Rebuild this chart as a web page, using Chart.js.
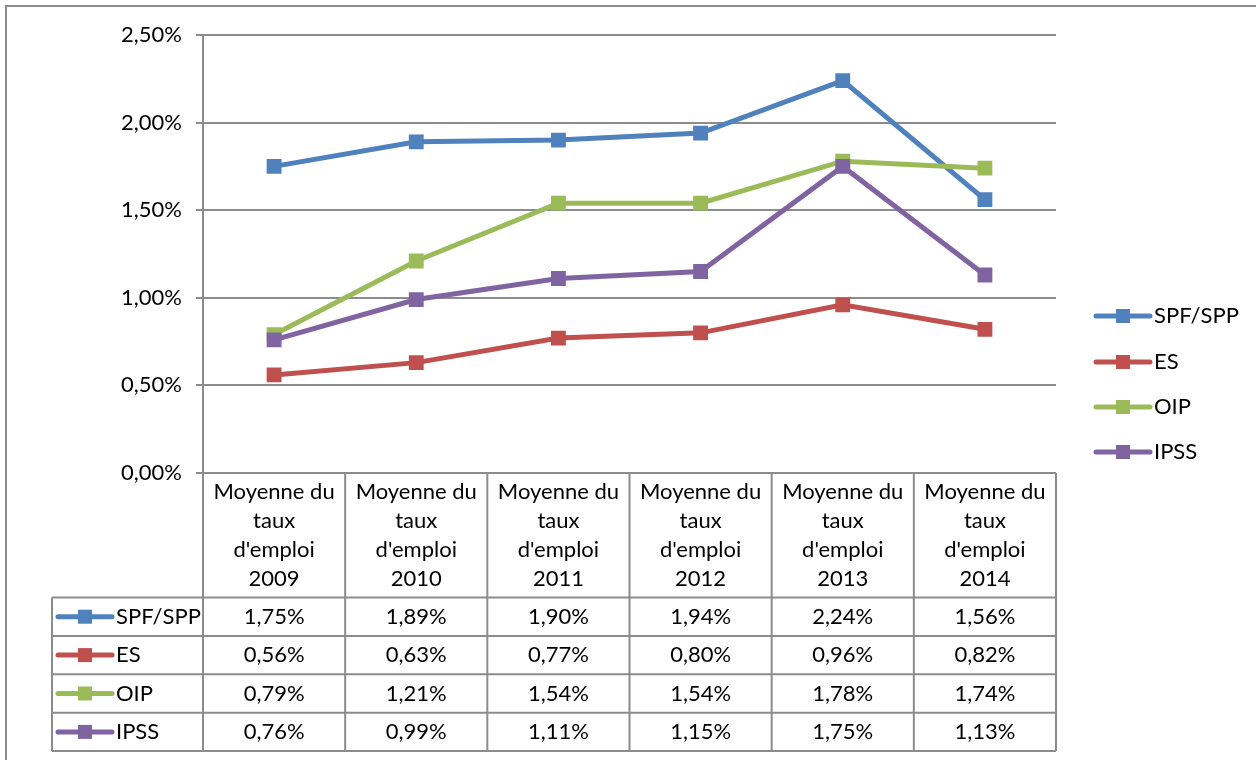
<!DOCTYPE html>
<html><head><meta charset="utf-8">
<script src="https://cdn.jsdelivr.net/npm/chart.js@4"></script>
<style>html,body{margin:0;padding:0;background:#fff;}canvas{display:block;}</style>
</head><body>
<canvas id="c" width="1256" height="760" style="width:1256px;height:760px"></canvas>
<script>
const categories = [
  ["Moyenne du","taux","d'emploi","2009"],
  ["Moyenne du","taux","d'emploi","2010"],
  ["Moyenne du","taux","d'emploi","2011"],
  ["Moyenne du","taux","d'emploi","2012"],
  ["Moyenne du","taux","d'emploi","2013"],
  ["Moyenne du","taux","d'emploi","2014"]
];
const seriesNames = ["SPF/SPP","ES","OIP","IPSS"];
const spfSpp = [1.75, 1.89, 1.90, 1.94, 2.24, 1.56];
const es     = [0.56, 0.63, 0.77, 0.80, 0.96, 0.82];
const oip    = [0.79, 1.21, 1.54, 1.54, 1.78, 1.74];
const ipss   = [0.76, 0.99, 1.11, 1.15, 1.75, 1.13];
const colors = ["#4F81BD","#C0504D","#9BBB59","#8064A2"];
const yTicks = [0, 0.5, 1, 1.5, 2, 2.5];

const FONT = "Lato";
const FS = 22;
const fmt = v => v.toFixed(2).replace('.', ',') + '%';
const seriesData = [spfSpp, es, oip, ipss];

function drawSymbol(ctx, x0, x1, y, color) {
  ctx.save();
  ctx.strokeStyle = color; ctx.lineWidth = 5; ctx.lineCap = 'round';
  ctx.beginPath(); ctx.moveTo(x0, y); ctx.lineTo(x1, y); ctx.stroke();
  ctx.fillStyle = color;
  const cx = (x0 + x1) / 2;
  ctx.fillRect(cx - 7, y - 7, 14, 14);
  ctx.restore();
}

const tablePlugin = {
  id: 'tablePlugin',
  afterDraw(chart) {
    const ctx = chart.ctx;
    const xs = chart.scales.x;
    const n = categories.length;
    const colW = (xs.right - xs.left) / n;
    const top = chart.chartArea.bottom;
    const rowTop = 597.5, rowH = 38.4, leftX = 52;
    const grey = '#8c8c8c';
    ctx.save();
    // outer border
    ctx.strokeStyle = '#8c8c8c'; ctx.lineWidth = 2;
    ctx.beginPath(); ctx.moveTo(6, 760); ctx.lineTo(6, 6); ctx.lineTo(1256, 6); ctx.stroke();
    // table lines
    ctx.strokeStyle = grey; ctx.lineWidth = 2;
    const bottom = rowTop + rowH * seriesNames.length;
    ctx.beginPath();
    for (let i = 0; i <= n; i++) {
      const x = xs.left + colW * i;
      ctx.moveTo(x, top); ctx.lineTo(x, bottom);
    }
    ctx.moveTo(leftX, rowTop); ctx.lineTo(leftX, bottom);
    for (let r = 0; r <= seriesNames.length; r++) {
      const y = rowTop + rowH * r;
      ctx.moveTo(leftX, y); ctx.lineTo(xs.right, y);
    }
    ctx.stroke();
    // header text
    ctx.fillStyle = '#000';
    ctx.font = FS + 'px ' + FONT;
    ctx.textAlign = 'center'; ctx.textBaseline = 'middle';
    categories.forEach((lines, i) => {
      const cx = xs.getPixelForValue(i);
      lines.forEach((t, k) => ctx.fillText(t, cx, 492 + k * 29));
    });
    // rows
    seriesNames.forEach((name, r) => {
      const cy = rowTop + rowH * r + rowH / 2;
      drawSymbol(ctx, 58, 112, cy, colors[r]);
      ctx.fillStyle = '#000'; ctx.textAlign = 'left';
      ctx.fillText(name, 116, cy);
      ctx.textAlign = 'center';
      seriesData[r].forEach((v, i) => ctx.fillText(fmt(v), xs.getPixelForValue(i), cy));
    });
    // legend
    const legY = [316, 362, 407, 452];
    seriesNames.forEach((name, r) => {
      drawSymbol(ctx, 1096, 1150, legY[r], colors[r]);
      ctx.fillStyle = '#000'; ctx.textAlign = 'left';
      ctx.fillText(name, 1154, legY[r]);
    });
    ctx.restore();
  }
};

new Chart(document.getElementById('c'), {
  type: 'line',
  data: {
    labels: categories.map(c => c.join(' ')),
    datasets: seriesNames.map((name, r) => ({
      label: name,
      data: seriesData[r],
      borderColor: colors[r],
      backgroundColor: colors[r],
      borderWidth: 5,
      tension: 0,
      pointStyle: 'rect',
      pointRadius: 10.5,
      pointHoverRadius: 10.5,
      pointBorderWidth: 0,
      order: seriesNames.length - r
    }))
  },
  options: {
    responsive: false,
    animation: false,
    devicePixelRatio: 1,
    layout: { padding: { top: 35, bottom: 287, right: 200, left: 0 } },
    plugins: { legend: { display: false }, tooltip: { enabled: false } },
    scales: {
      x: { display: false, offset: true },
      y: {
        min: 0, max: 2.5,
        afterBuildTicks: s => { s.ticks = yTicks.map(v => ({ value: v })); },
        afterFit: s => { s.width = 203; },
        border: { display: true, color: '#8c8c8c', width: 2 },
        grid: { color: '#8c8c8c', lineWidth: 2, drawTicks: true, tickLength: 7, tickColor: '#8c8c8c' },
        ticks: { color: '#000', font: { family: FONT, size: FS }, padding: 14, callback: v => fmt(v) }
      }
    }
  },
  plugins: [tablePlugin]
});
</script>
</body></html>
